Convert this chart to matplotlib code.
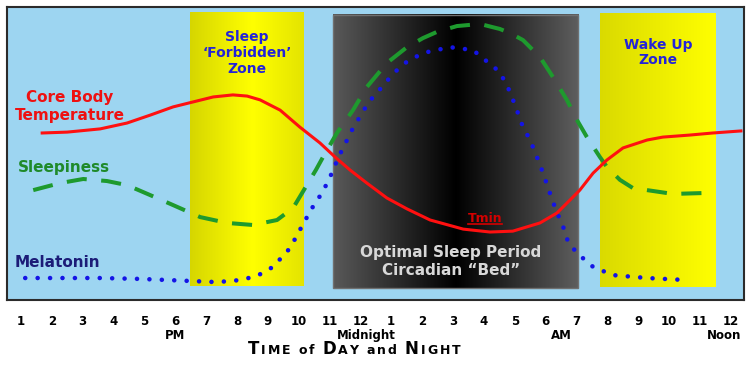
import numpy as np
import matplotlib.pyplot as plt
from matplotlib.colors import to_rgb
from matplotlib.patches import Rectangle
from matplotlib.lines import Line2D

# clock hours, 13 = 1 PM ... 36 = noon next day
hour_ticks = list(range(13, 37))
tick_labels = ['1', '2', '3', '4', '5', '6', '7', '8', '9', '10', '11', '12',
               '1', '2', '3', '4', '5', '6', '7', '8', '9', '10', '11', '12']
sub_labels = ['PM', 'Midnight', 'AM', 'Noon']
sub_label_hours = [18, 24.2, 30.5, 35.8]

# relative levels (0 = bottom of panel, 100 = top)
temp_hours = [13.69, 14.50, 15.57, 16.44, 17.19, 17.93, 18.58, 19.23, 19.87, 20.33,
              20.75, 21.40, 22.04, 22.69, 23.18, 23.66, 24.21, 24.86, 25.51, 26.26,
              27.33, 28.20, 28.94, 29.82, 30.37, 30.79, 31.11, 31.54, 31.99, 32.51,
              33.29, 33.80, 34.68, 35.42, 36.33]
temp_level = [57.0, 57.3, 58.4, 60.4, 63.1, 65.9, 67.6, 69.3, 70.0, 69.6,
              68.3, 64.8, 59.0, 53.6, 48.8, 44.4, 39.9, 34.8, 31.1, 27.3,
              24.2, 23.2, 23.5, 26.3, 29.7, 34.1, 37.5, 43.3, 47.8, 51.9,
              54.6, 55.6, 56.3, 57.0, 57.7]

sleepy_hours = [13.40, 14.27, 15.02, 15.79, 16.44, 17.19, 17.93, 18.81, 19.68, 20.52,
                21.30, 21.82, 22.56, 22.79, 23.24, 23.76, 24.21, 24.86, 25.51, 26.03,
                26.48, 27.13, 27.88, 28.52, 28.85, 29.27, 29.82, 30.24, 30.69, 31.02,
                31.34, 31.76, 31.99, 32.41, 32.83, 33.29, 34.13, 35.10]
sleepy_level = [37.5, 39.9, 41.3, 40.6, 39.2, 35.8, 32.4, 28.3, 26.3, 25.6,
                27.3, 31.4, 44.4, 48.8, 57.0, 64.8, 72.7, 80.9, 86.3, 89.4,
                91.5, 93.5, 94.2, 92.5, 91.1, 88.7, 82.9, 76.1, 68.3, 61.4,
                55.6, 48.8, 45.4, 41.0, 38.2, 37.5, 36.2, 36.5]

melatonin_hours = [13.14, 14.50, 15.57, 16.86, 18.48, 19.36, 20.10, 20.65, 21.17, 21.72,
                   22.04, 22.27, 22.53, 22.76, 23.02, 23.28, 23.44, 23.73, 23.92, 24.25,
                   24.47, 24.70, 24.89, 25.19, 25.45, 25.77, 26.16, 26.90, 27.65, 28.52,
                   28.85, 29.07, 29.27, 29.50, 29.72, 29.92, 30.14, 30.37, 30.53, 30.73,
                   31.02, 31.54, 32.18, 33.29, 34.58]
melatonin_level = [7.5, 7.5, 7.5, 7.2, 6.5, 6.1, 6.8, 8.2, 11.3, 17.7,
                   23.9, 28.3, 33.1, 36.5, 42.0, 48.5, 51.9, 58.0, 61.4, 67.2,
                   70.0, 72.7, 75.1, 78.5, 80.9, 82.9, 84.6, 86.3, 85.3, 77.8,
                   71.0, 64.8, 59.0, 54.6, 48.8, 43.3, 36.5, 29.7, 26.3, 19.8,
                   16.0, 11.3, 8.5, 7.5, 6.8]

forbidden_zone = (18.48, 22.17)
bed_zone = (23.11, 31.05)
wake_zone = (31.76, 35.49)


def gradient_box(ax, x0, x1, y0, y1, stops, colors, z=1):
    xs = np.linspace(0, 1, 256)
    cols = [to_rgb(c) for c in colors]
    rgb = np.stack([np.interp(xs, stops, [c[i] for c in cols]) for i in range(3)], axis=-1)
    ax.imshow(rgb[None, :, :], extent=(x0, x1, y0, y1), aspect='auto',
              interpolation='bilinear', zorder=z)


fig = plt.figure(figsize=(7.54, 3.65), dpi=100)
ax = fig.add_axes([7 / 754, 65 / 365, 737 / 754, 293 / 365])
ax.set_facecolor('#9dd5f1')
for s in ax.spines.values():
    s.set_color('#2b2b2b')
    s.set_linewidth(1.5)

gradient_box(ax, forbidden_zone[0], forbidden_zone[1], 4.8, 98.0,
             [0, 0.55, 1], ['#d6d600', '#ffff00', '#e4e400'])
gradient_box(ax, bed_zone[0], bed_zone[1], 4.1, 97.3,
             [0, 0.5, 1], ['#595959', '#000000', '#5e5e5e'])
ax.add_patch(Rectangle((bed_zone[0], 4.1), bed_zone[1] - bed_zone[0], 93.2,
                       fill=False, edgecolor='#707070', lw=1, zorder=2))
gradient_box(ax, wake_zone[0], wake_zone[1], 4.4, 97.6,
             [0, 1], ['#dada00', '#ffff00'])

ax.plot(sleepy_hours, sleepy_level, color='#1e9a2e', lw=2.9,
        linestyle=(0, (5, 3.6)), dash_capstyle='butt', solid_joinstyle='round', zorder=3)
ax.plot(melatonin_hours, melatonin_level, color='#1414e6', lw=3.3,
        linestyle=(0, (0.01, 2.7)), dash_capstyle='round', zorder=4)
ax.plot(temp_hours, temp_level, color='#ff1010', lw=2.2,
        solid_joinstyle='round', zorder=5)

bold = dict(fontweight='bold', zorder=6)
ax.text(14.58, 67.6, 'Core Body', color='#ee1111', fontsize=11, ha='center', va='baseline', **bold)
ax.text(14.58, 61.4, 'Temperature', color='#ee1111', fontsize=11, ha='center', va='baseline', **bold)
ax.text(14.40, 43.7, 'Sleepiness', color='#1f8a2a', fontsize=11, ha='center', va='baseline', **bold)
ax.text(14.19, 11.3, 'Melatonin', color='#1c1c78', fontsize=11, ha='center', va='baseline', **bold)

ax.text(20.33, 92.0, 'Sleep\n\u2018Forbidden\u2019\nZone', color='#2424d8', fontsize=10,
        ha='center', va='top', linespacing=1.15, **bold)
ax.text(33.64, 89.4, 'Wake Up\nZone', color='#2424d8', fontsize=10,
        ha='center', va='top', linespacing=1.1, **bold)
tmin = ax.text(28.04, 26.6, 'Tmin', color='#d40000', fontsize=9,
               ha='center', va='baseline', **bold)
ax.text(26.94, 14.7, 'Optimal Sleep Period', color='#d8d8d8', fontsize=11,
        ha='center', va='baseline', **bold)
ax.text(26.94, 8.5, 'Circadian \u201cBed\u201d', color='#d8d8d8', fontsize=11,
        ha='center', va='baseline', **bold)

ax.set_xlim(12.55, 36.43)
ax.set_ylim(0, 100)
ax.set_yticks([])
ax.set_xticks(hour_ticks, tick_labels, fontsize=8.5, fontweight='bold')
ax.tick_params(axis='x', length=0, pad=10.5)

for lab, h in zip(sub_labels, sub_label_hours):
    ax.annotate(lab, xy=(h, 0), xycoords=('data', 'axes fraction'),
                xytext=(0, -28), textcoords='offset points',
                ha='center', va='baseline', fontsize=8.5, fontweight='bold')

renderer = fig.canvas.get_renderer()

# underline under Tmin
bb = tmin.get_window_extent(renderer)
base_y = ax.transData.transform((28.04, 26.6))[1] - 2
fig.add_artist(Line2D([bb.x0 / 754, bb.x1 / 754], [base_y / 365, base_y / 365],
                      color='#d40000', lw=1.2, zorder=7))

# small-caps axis title, placed letter by letter
title_parts = [('T', 12), ('IME', 9), (' ', 9), ('of', 9), (' ', 9), ('D', 12), ('AY', 9),
               (' ', 9), ('and', 9), (' ', 9), ('N', 12), ('IGHT', 9)]
track = 2.1
glyphs = []
total = 0
for part, size in title_parts:
    for ch in part:
        if ch == ' ':
            w = size * 0.45 * 100 / 72
            glyphs.append((None, w))
        else:
            t = fig.text(0, 0.03, ch, fontsize=size, fontweight='bold', va='baseline')
            w = t.get_window_extent(renderer).width + track
            glyphs.append((t, w))
        total += w
x = 355 - total / 2
for t, w in glyphs:
    if t is not None:
        t.set_x(x / 754)
    x += w

fig.savefig('out.png', dpi=100)
